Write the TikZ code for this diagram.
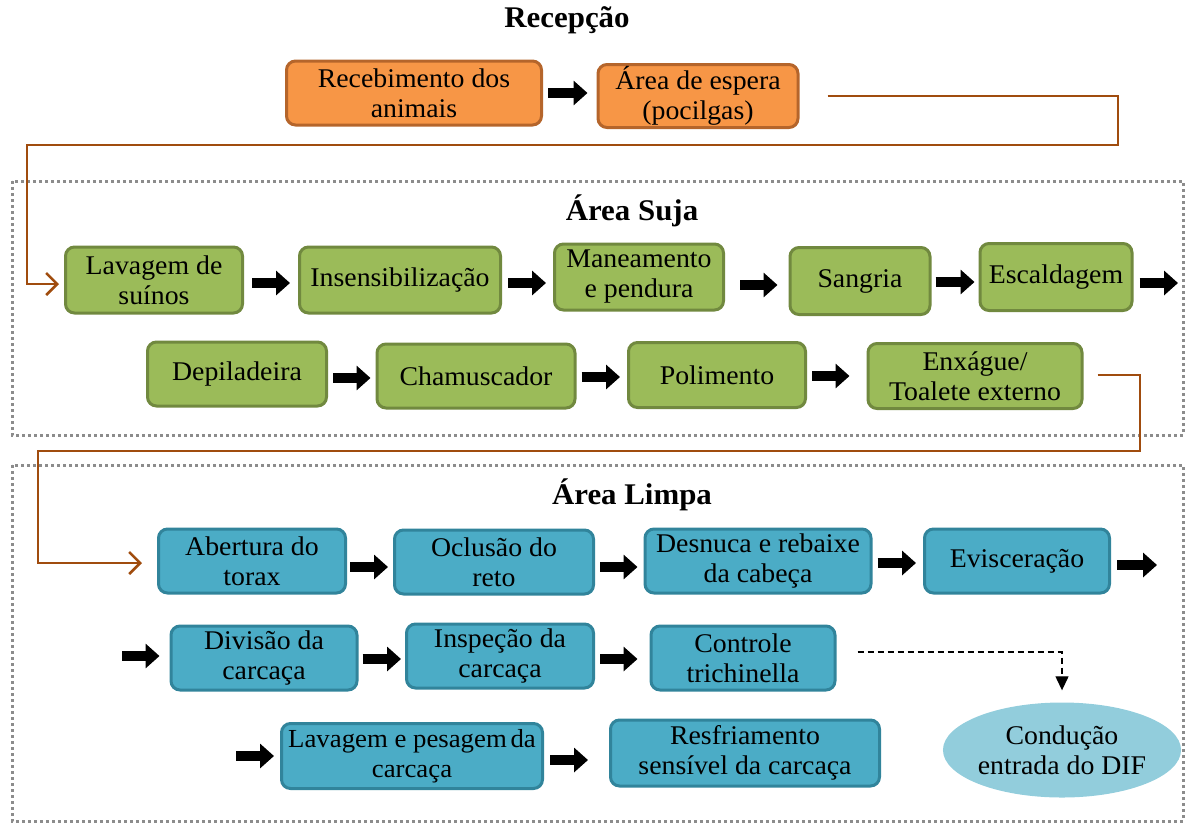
\documentclass[tikz,border=0pt]{standalone}
\usepackage{fontspec}
\setmainfont{Liberation Serif}[FakeStretch=1.03]
\usetikzlibrary{arrows.meta,calc,shapes.geometric}
\definecolor{orf}{HTML}{F79646}
\definecolor{ord}{HTML}{B5652B}
\definecolor{grf}{HTML}{9BBB59}
\definecolor{grd}{HTML}{71893F}
\definecolor{blf}{HTML}{4BACC6}
\definecolor{bld}{HTML}{31849B}
\definecolor{elf}{HTML}{92CDDC}
\definecolor{brn}{HTML}{A04C0E}
\definecolor{dgr}{HTML}{8C8C8C}
\begin{document}
\begin{tikzpicture}[x=1pt,y=-1pt,
 box/.style={rounded corners=9pt, line width=3pt, inner sep=0pt, align=center, font=\fontsize{27}{30}\selectfont},
 obox/.style={box, fill=orf, draw=ord},
 gbox/.style={box, fill=grf, draw=grd},
 bbox/.style={box, fill=blf, draw=bld},
 ellbox/.style={ellipse, fill=elf, inner sep=0pt, align=center, font=\fontsize{27}{30}\selectfont},
 ttl/.style={font=\bfseries\fontsize{30}{34}\selectfont},
 zone/.style={draw=dgr, line width=3pt, dash pattern=on 3pt off 3pt},
 barrow/.style={line width=10pt, -{Triangle[length=14pt,width=24pt]}},
 brline/.style={draw=brn, line width=2.5pt, -{Straight Barb[length=11pt,width=22pt]}},
 dline/.style={line width=1.3pt, dash pattern=on 6pt off 4pt, -{Triangle[length=14pt,width=13pt]}},
]
\useasboundingbox (0,0) rectangle (1186,823);
% zones
\draw[zone] (12,181) rectangle (1183,435);
\draw[zone] (12,465) rectangle (1183,821);
% titles
\node[ttl] (t1) at (567,20) {Recepção};
\node[ttl] (t2) at (632,211) {Área Suja};
\node[ttl] (t3) at (632,495) {Área Limpa};
% reception
\node[obox, minimum width=255pt, minimum height=64pt] (rec) at (414,93) {Recebimento dos\\animais};
\node[obox, minimum width=200pt, minimum height=63pt] (esp) at (698,96) {Área de espera\\(pocilgas)};
% dirty area
\node[gbox, minimum width=177pt, minimum height=66pt] (lav) at (154,280) {Lavagem de\\suínos};
\node[gbox, minimum width=201pt, minimum height=66pt] (ins) at (400,280) {Insensibilização};
\node[gbox, minimum width=169pt, minimum height=66pt] (man) at (639,277) {Maneamento\\e pendura};
\node[gbox, minimum width=140pt, minimum height=67pt] (san) at (860,281) {Sangria};
\node[gbox, minimum width=152pt, minimum height=67pt] (esc) at (1056,277) {Escaldagem};
\node[gbox, minimum width=179pt, minimum height=64pt] (dep) at (237,374) {Depiladeira};
\node[gbox, minimum width=198pt, minimum height=64pt] (cha) at (476,376) {Chamuscador};
\node[gbox, minimum width=177pt, minimum height=65pt] (pol) at (717,375) {Polimento};
\node[gbox, minimum width=214pt, minimum height=65pt] (enx) at (975,376) {Enxágue/\\Toalete externo};
% clean area
\node[bbox, minimum width=187pt, minimum height=64pt] (abt) at (252,561) {Abertura do\\torax};
\node[bbox, minimum width=199pt, minimum height=64pt] (ocl) at (494,562) {Oclusão do\\reto};
\node[bbox, minimum width=226pt, minimum height=64pt] (des) at (758,561) {Desnuca e rebaixe\\da cabeça};
\node[bbox, minimum width=185pt, minimum height=64pt] (evi) at (1017,561) {Evisceração};
\node[bbox, minimum width=186pt, minimum height=64pt] (div) at (264,658) {Divisão da\\carcaça};
\node[bbox, minimum width=187pt, minimum height=64pt] (isp) at (500,656) {Inspeção da\\carcaça};
\node[bbox, minimum width=184pt, minimum height=64pt] (ctl) at (743,658) {Controle\\trichinella};
\node[bbox, minimum width=261pt, minimum height=65pt, font=\fontsize{26}{30}\selectfont] (lpc) at (412,756) {Lavagem e pesagem\hspace{-3pt} da\\carcaça};
\node[bbox, minimum width=269pt, minimum height=66pt] (res) at (745,753) {Resfriamento\\sensível da carcaça};
\node[ellbox, minimum width=212pt, minimum height=95pt] (dif) at (1062,750) {Condução\\entrada do DIF};
% brown connectors
\draw[brline] ($(esp.east)+(28,0)$) -- (1118,96) -- (1118,145) -- (27,145) -- (27,284) -- ($(lav.west)+(-5,4)$);
\draw[brline] ($(enx.east)+(14,-1)$) -- (1140,375) -- (1140,451) -- (38,451) -- (38,563) -- ($(abt.west)+(-15,2)$);
% dashed connector
\draw[dline] ($(ctl.east)+(21,-6)$) -| ($(dif.north)+(0,-12)$);
% block arrows
\draw[barrow] ($(rec.east)+(5,0)$) -- ($(esp.west|-rec.east)+(-9,0)$);
\draw[barrow] ($(lav.east)+(8,3)$) -- ($(ins.west|-lav.east)+(-8,3)$);
\draw[barrow] ($(ins.east)+(6,3)$) -- ($(man.west|-ins.east)+(-7,3)$);
\draw[barrow] ($(man.east)+(15,8)$) -- ($(san.west|-man.east)+(-11,8)$);
\draw[barrow] ($(san.east)+(4,1)$) -- ($(esc.west|-san.east)+(-4,1)$);
\coordinate (e1) at (1178,283);
\draw[barrow] ($(esc.east)+(6,6)$) -- (e1);
\draw[barrow] ($(dep.east)+(5,4)$) -- ($(cha.west|-dep.east)+(-5,4)$);
\draw[barrow] ($(cha.east)+(5,1)$) -- ($(pol.west|-cha.east)+(-7,1)$);
\draw[barrow] ($(pol.east)+(5,1)$) -- ($(enx.west|-pol.east)+(-17,1)$);
\draw[barrow] ($(abt.east)+(3,6)$) -- ($(ocl.west|-abt.east)+(-5,6)$);
\draw[barrow] ($(ocl.east)+(5,5)$) -- ($(des.west|-ocl.east)+(-6,5)$);
\draw[barrow] ($(des.east)+(5,2)$) -- ($(evi.west|-des.east)+(-7,2)$);
\coordinate (e2) at (1157,565);
\draw[barrow] ($(evi.east)+(6,4)$) -- (e2);
\coordinate (s3) at (122,656);
\draw[barrow] (s3) -- ($(div.west|-s3)+(-10,0)$);
\draw[barrow] ($(div.east)+(4,1)$) -- ($(isp.west|-div.east)+(-4,1)$);
\draw[barrow] ($(isp.east)+(5,3)$) -- ($(ctl.west|-isp.east)+(-12,3)$);
\coordinate (s4) at (236,756);
\draw[barrow] (s4) -- ($(lpc.west|-s4)+(-6,0)$);
\draw[barrow] ($(lpc.east)+(6,4)$) -- ($(res.west|-lpc.east)+(-21,4)$);
\end{tikzpicture}
\end{document}
